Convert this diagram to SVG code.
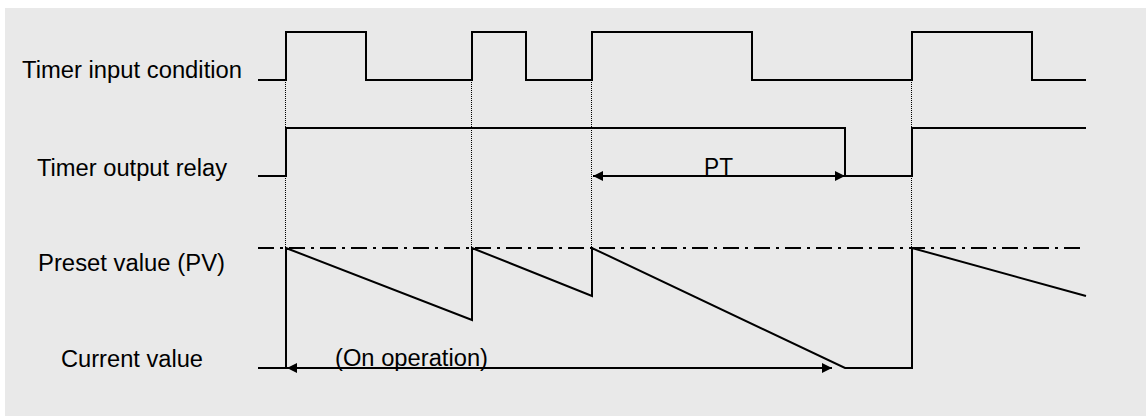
<svg xmlns="http://www.w3.org/2000/svg" width="1146" height="416" viewBox="0 0 1146 416">
<style>
.bg{fill:#e9e9e9}
.lbl{font-family:"Liberation Sans",Arial,sans-serif;font-size:23px;fill:#000}
.w{fill:none;stroke:#000;stroke-width:2;stroke-linejoin:miter}
.dot{fill:none;stroke:#000;stroke-width:1;stroke-dasharray:1 1}
.dd{fill:none;stroke:#000;stroke-width:2;stroke-dasharray:16 6 3 6}
.ar{fill:none;stroke:#000;stroke-width:2}
</style>
<defs>
<marker id="ah" viewBox="0 0 10 10" refX="10" refY="5" markerWidth="10" markerHeight="10" markerUnits="userSpaceOnUse" orient="auto-start-reverse">
<path d="M0,0 L10,5 L0,10 Z" fill="#000"/>
</marker>
</defs>
<rect class="bg" x="5" y="8" width="1141" height="408"/>
<g id="labels">
<text class="lbl" x="22" y="78" textLength="220" lengthAdjust="spacingAndGlyphs">Timer input condition</text>
<text class="lbl" x="37" y="176" textLength="190" lengthAdjust="spacingAndGlyphs">Timer output relay</text>
<text class="lbl" x="38" y="271" textLength="187" lengthAdjust="spacingAndGlyphs">Preset value (PV)</text>
<text class="lbl" x="61" y="367" textLength="142" lengthAdjust="spacingAndGlyphs">Current value</text>
</g>
<g id="guides">
<line class="dot" x1="285.5" y1="80" x2="285.5" y2="248"/>
<line class="dot" x1="471.5" y1="80" x2="471.5" y2="248"/>
<line class="dot" x1="591.5" y1="80" x2="591.5" y2="248"/>
<line class="dot" x1="911.5" y1="80" x2="911.5" y2="248"/>
<line class="dd" x1="258" y1="248" x2="1084" y2="248"/>
</g>
<g id="input-signal">
<polyline class="w" points="258,80 286,80 286,32 366,32 366,80 472,80 472,32 526,32 526,80 592,80 592,32 752,32 752,80 912,80 912,32 1032,32 1032,80 1086,80"/>
</g>
<g id="output-relay">
<polyline class="w" points="258,176 286,176 286,128 845,128 845,176 912,176 912,128 1086,128"/>
</g>
<g id="current-value">
<polyline class="w" points="258,368 286,368 286,248 472,320 472,248 592,296 592,248 845,368 912,368 912,248 1086,296"/>
</g>
<g id="connectors">
<line class="ar" x1="593" y1="176" x2="845" y2="176" marker-start="url(#ah)" marker-end="url(#ah)"/>
<line class="ar" x1="287" y1="368" x2="832" y2="368" marker-start="url(#ah)" marker-end="url(#ah)"/>
<text class="lbl" x="704" y="175" textLength="29" lengthAdjust="spacingAndGlyphs">PT</text>
<text class="lbl" x="335" y="366" textLength="153" lengthAdjust="spacingAndGlyphs">(On operation)</text>
</g>
</svg>
